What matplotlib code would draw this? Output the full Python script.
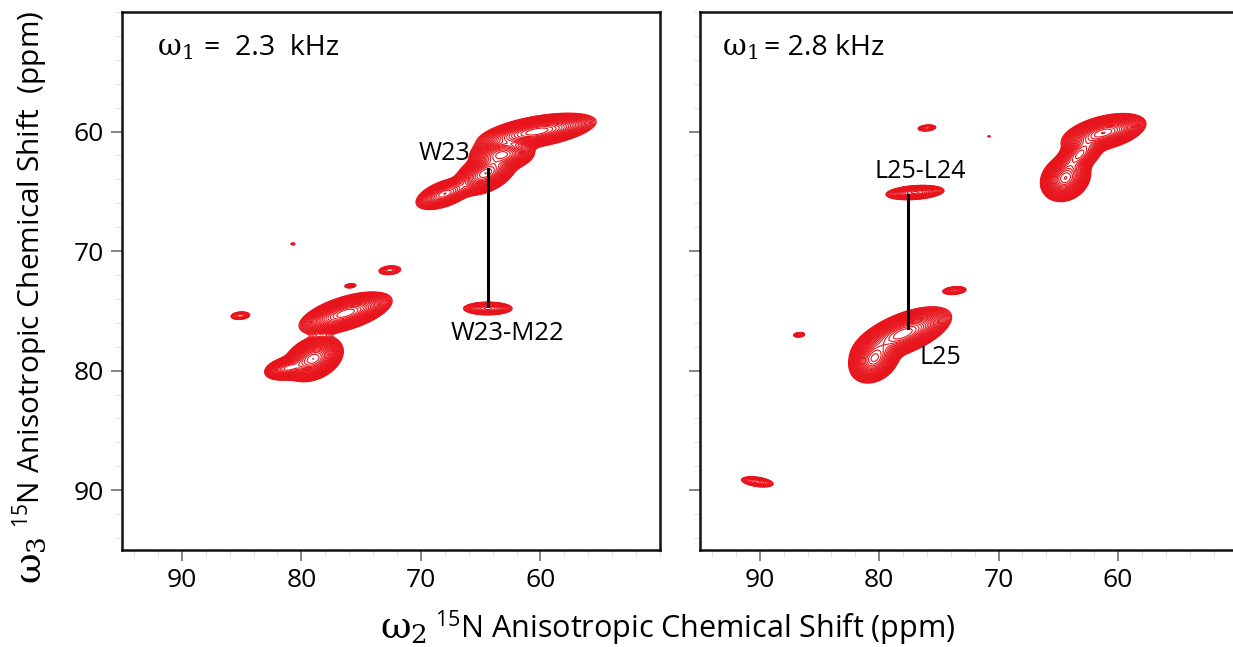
import numpy as np
import matplotlib
matplotlib.use("Agg")
import matplotlib.pyplot as plt
from matplotlib.ticker import MultipleLocator

plt.rcParams['font.family'] = ['Open Sans', 'DejaVu Sans']
plt.rcParams['mathtext.fontset'] = 'custom'
plt.rcParams['mathtext.rm'] = 'DejaVu Serif'
plt.rcParams['mathtext.it'] = 'DejaVu Serif:italic'

RED = '#e8141c'
W, H = 1233, 647

# Cross-peaks for each plane: centre (w2, w3) in ppm, widths along the
# major/minor axis (ppm), tilt of the major axis (deg) and peak height.
left_w2 = [60.3, 63.2, 64.6, 68.0, 64.4, 76.3, 79.0, 81.2, 85.1, 75.9, 72.6, 80.7]
left_w3 = [60.0, 61.9, 63.5, 65.2, 74.8, 75.2, 79.0, 79.8, 75.4, 72.9, 71.6, 69.4]
left_smaj = [1.8, 1.0, 1.0, 1.0, 0.95, 1.45, 0.95, 0.75, 0.5, 0.35, 0.55, 0.2]
left_smin = [0.46, 0.5, 0.55, 0.42, 0.25, 0.5, 0.62, 0.36, 0.2, 0.13, 0.22, 0.1]
left_tilt = [10, 5, 25, 20, 0, 17, 25, 12, 5, 5, 5, 0]
left_amp = [1.0, 0.8, 1.0, 0.5, 0.2, 1.0, 1.0, 0.5, 0.07, 0.05, 0.08, 0.03]

right_w2 = [61.2, 63.2, 64.4, 77.0, 76.0, 70.8, 73.7, 86.7, 90.2, 78.0, 80.4]
right_w3 = [60.1, 61.9, 63.9, 65.1, 59.7, 60.4, 73.3, 77.0, 89.3, 76.9, 79.0]
right_smaj = [1.3, 0.9, 0.8, 1.05, 0.45, 0.12, 0.55, 0.32, 0.75, 1.55, 0.85]
right_smin = [0.5, 0.5, 0.65, 0.25, 0.15, 0.06, 0.18, 0.13, 0.22, 0.6, 0.65]
right_tilt = [14, 40, 35, 4, 5, 0, 5, 5, -8, 22, 40]
right_amp = [1.0, 0.7, 1.0, 0.3, 0.08, 0.03, 0.1, 0.06, 0.1, 1.0, 0.9]

panel_freq = ['2.3', '2.8']
ticks = [60, 70, 80, 90]

# Sequential-walk connectors: (w2, w3 start, w3 end)
left_link = (64.4, 63.1, 74.6)
right_link = (77.6, 65.3, 76.4)

W2 = np.linspace(50, 95, 901)
W3 = np.linspace(50, 95, 901)
GX, GY = np.meshgrid(W2, W3)


def spectrum(xs, ys, smaj, smin, tilt, amp):
    z = np.zeros_like(GX)
    for x0, y0, a, b, t, h in zip(xs, ys, smaj, smin, tilt, amp):
        th = np.deg2rad(t)
        dx, dy = GX - x0, GY - y0
        u = (dx * np.cos(th) + dy * np.sin(th)) / a
        v = (-dx * np.sin(th) + dy * np.cos(th)) / b
        z += h * np.exp(-0.5 * (u * u + v * v))
    return z


base = 0.02
levels = base * 1.15 ** np.arange(0, 40)

fig = plt.figure(figsize=(W / 100, H / 100), dpi=100)
ax1 = fig.add_axes([122 / W, 1 - 550 / H, 538 / W, 538 / H])
ax2 = fig.add_axes([700 / W, 1 - 550 / H, 537.5 / W, 538 / H])

for ax, data in ((ax1, (left_w2, left_w3, left_smaj, left_smin, left_tilt, left_amp)),
                 (ax2, (right_w2, right_w3, right_smaj, right_smin, right_tilt, right_amp))):
    z = spectrum(*data)
    ax.contour(GX, GY, z, levels=levels, colors=RED, linewidths=0.8)
    ax.set_xlim(95, 50)
    ax.set_ylim(95, 50)
    ax.set_xticks(ticks)
    ax.set_yticks(ticks)
    ax.xaxis.set_minor_locator(MultipleLocator(2))
    ax.yaxis.set_minor_locator(MultipleLocator(2))
    ax.tick_params(which='major', direction='out', length=8, width=1.2,
                   color='#707070', labelsize=19, pad=5)
    ax.tick_params(which='minor', direction='out', length=5, width=0.8,
                   color='#e4e4e4')
    for sp in ax.spines.values():
        sp.set_linewidth(1.8)
        sp.set_color('#111111')

ax2.tick_params(axis='y', labelleft=False)

ax1.plot([left_link[0]] * 2, left_link[1:], color='black', lw=2.2)
ax2.plot([right_link[0]] * 2, right_link[1:], color='black', lw=2.2)

ax1.text(65.9, 61.8, 'W23', fontsize=18, ha='right', va='center')
ax1.text(62.8, 76.9, 'W23-M22', fontsize=18.5, ha='center', va='center')
ax2.text(76.6, 63.3, 'L25-L24', fontsize=18, ha='center', va='center')
ax2.text(76.6, 78.9, 'L25', fontsize=18, ha='left', va='center')

renderer = fig.canvas.get_renderer()


def chain(x_px, y_px, pieces, vertical=False):
    """Set text pieces one after another along a common baseline."""
    pos = x_px if not vertical else y_px
    for s, size, gap in pieces:
        if vertical:
            t = fig.text(x_px / W, 1 - pos / H, s, fontsize=size, rotation=90,
                         rotation_mode='anchor', ha='left', va='baseline')
            pos -= t.get_window_extent(renderer).height + gap
        else:
            t = fig.text(pos / W, 1 - y_px / H, s, fontsize=size,
                         ha='left', va='baseline')
            pos += t.get_window_extent(renderer).width + gap


chain(157, 55, [(r'$\mathrm{\omega_1}$', 21, 11),
                ('=  ' + panel_freq[0] + '  kHz', 20.5, 0)])
chain(722, 55, [(r'$\mathrm{\omega_1}$', 21, 6),
                ('= ' + panel_freq[1] + ' kHz', 20.5, 0)])

label = r'$\mathregular{^{15}}$N Anisotropic Chemical Shift (ppm)'
chain(380, 638, [(r'$\mathrm{\omega_2}$', 27, 8), (label, 22, 0)])
chain(40, 584, [(r'$\mathrm{\omega_3}$', 27, 8),
                (label.replace('Shift (', 'Shift  ('), 21.5, 0)], vertical=True)

fig.savefig('out.png', dpi=100)
